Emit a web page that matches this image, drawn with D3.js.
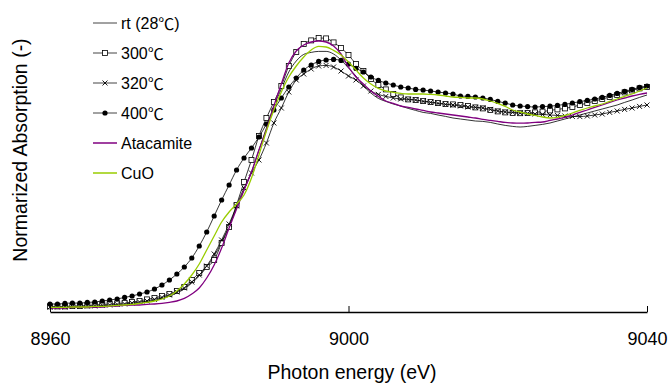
<!DOCTYPE html>
<html>
<head>
<meta charset="utf-8">
<script src="https://cdn.jsdelivr.net/npm/d3@7"></script>
<style>
  body { margin: 0; background: #fff; }
  svg { display: block; font-family: "Liberation Sans", Arial, "Noto Sans CJK JP", sans-serif; }
</style>
</head>
<body>
<div id="chart"></div>
<script>
// photon energy grid (eV)
const energies = [
  8960, 8961, 8962, 8963, 8964, 8965, 8966, 8967, 8968, 8969,
  8970, 8971, 8972, 8973, 8974, 8975, 8976, 8977, 8978, 8979,
  8980, 8981, 8982, 8983, 8984, 8985, 8986, 8987, 8988, 8989,
  8990, 8991, 8992, 8993, 8994, 8995, 8996, 8997, 8998, 8999,
  9000, 9001, 9002, 9003, 9004, 9005, 9006, 9007, 9008, 9009,
  9010, 9011, 9012, 9013, 9014, 9015, 9016, 9017, 9018, 9019,
  9020, 9021, 9022, 9023, 9024, 9025, 9026, 9027, 9028, 9029,
  9030, 9031, 9032, 9033, 9034, 9035, 9036, 9037, 9038, 9039,
  9040
];

// normalized absorption
const rt = [
  0.0225, 0.0225, 0.0225, 0.025, 0.025, 0.0275, 0.0275, 0.03, 0.0325, 0.035,
  0.0375, 0.04, 0.045, 0.05, 0.0575, 0.0675, 0.08, 0.095, 0.115, 0.145,
  0.18, 0.225, 0.28, 0.35, 0.43, 0.52, 0.61, 0.70, 0.81, 0.92,
  1.03, 1.115, 1.20, 1.255, 1.288, 1.298, 1.303, 1.303, 1.29, 1.26,
  1.22, 1.18, 1.13, 1.095, 1.068, 1.053, 1.04, 1.03, 1.018, 1.008,
  0.998, 0.993, 0.985, 0.978, 0.97, 0.965, 0.96, 0.955, 0.953, 0.948,
  0.94, 0.933, 0.928, 0.925, 0.928, 0.933, 0.938, 0.945, 0.955, 0.965,
  0.975, 0.985, 0.995, 1.005, 1.015, 1.025, 1.035, 1.048, 1.06, 1.073,
  1.085
];
const t300 = [
  0.028, 0.028, 0.028, 0.03, 0.03, 0.033, 0.035, 0.038, 0.04, 0.043,
  0.045, 0.05, 0.055, 0.063, 0.07, 0.08, 0.09, 0.105, 0.125, 0.16,
  0.195, 0.225, 0.26, 0.345, 0.425, 0.535, 0.65, 0.76, 0.88, 0.97,
  1.05, 1.13, 1.23, 1.30, 1.34, 1.358, 1.37, 1.368, 1.348, 1.32,
  1.285, 1.24, 1.205, 1.165, 1.135, 1.113, 1.09, 1.073, 1.063, 1.06,
  1.055, 1.05, 1.045, 1.04, 1.038, 1.035, 1.03, 1.023, 1.018, 1.01,
  1.003, 0.998, 0.995, 0.994, 0.995, 0.998, 1.002, 1.008, 1.013, 1.018,
  1.025, 1.035, 1.045, 1.055, 1.065, 1.075, 1.085, 1.098, 1.108, 1.118,
  1.125
];
const t320 = [
  0.025, 0.025, 0.025, 0.028, 0.028, 0.03, 0.03, 0.033, 0.035, 0.038,
  0.04, 0.045, 0.05, 0.055, 0.063, 0.073, 0.085, 0.10, 0.12, 0.15,
  0.185, 0.23, 0.29, 0.36, 0.44, 0.53, 0.62, 0.695, 0.76, 0.845,
  0.945, 1.02, 1.10, 1.16, 1.19, 1.215, 1.23, 1.233, 1.225, 1.205,
  1.18, 1.16, 1.13, 1.105, 1.088, 1.078, 1.07, 1.065, 1.063, 1.06,
  1.053, 1.048, 1.043, 1.038, 1.035, 1.03, 1.025, 1.023, 1.02, 1.013,
  1.005, 1.0, 0.998, 0.995, 0.993, 0.99, 0.988, 0.985, 0.983, 0.98,
  0.978, 0.977, 0.98, 0.985, 0.99, 0.998, 1.005, 1.013, 1.02, 1.028,
  1.035
];
const t400 = [
  0.04, 0.04, 0.043, 0.045, 0.045, 0.048, 0.05, 0.055, 0.06, 0.065,
  0.073, 0.08, 0.09, 0.10, 0.115, 0.135, 0.16, 0.19, 0.225, 0.27,
  0.33, 0.40, 0.48, 0.56, 0.635, 0.71, 0.77, 0.82, 0.875, 0.94,
  1.01, 1.07, 1.125, 1.17, 1.21, 1.235, 1.253, 1.26, 1.263, 1.258,
  1.24, 1.218, 1.20, 1.175, 1.158, 1.145, 1.135, 1.125, 1.12, 1.113,
  1.11, 1.105, 1.10, 1.095, 1.09, 1.08, 1.078, 1.075, 1.07, 1.063,
  1.053, 1.045, 1.035, 1.03, 1.027, 1.025, 1.027, 1.029, 1.033, 1.038,
  1.045, 1.052, 1.058, 1.065, 1.073, 1.083, 1.093, 1.103, 1.113, 1.123,
  1.13
];
const atacamite = [
  0.02, 0.02, 0.02, 0.023, 0.023, 0.023, 0.025, 0.025, 0.028, 0.03,
  0.033, 0.035, 0.035, 0.038, 0.04, 0.043, 0.048, 0.055, 0.068, 0.09,
  0.12, 0.17, 0.235, 0.32, 0.42, 0.515, 0.61, 0.70, 0.81, 0.91,
  1.03, 1.14, 1.245, 1.305, 1.335, 1.35, 1.355, 1.35, 1.33, 1.29,
  1.225, 1.175, 1.14, 1.105, 1.078, 1.055, 1.043, 1.03, 1.023, 1.015,
  1.008, 1.0, 0.995, 0.99, 0.985, 0.98, 0.975, 0.97, 0.963, 0.958,
  0.953, 0.948, 0.945, 0.944, 0.945, 0.948, 0.95, 0.958, 0.965, 0.973,
  0.985, 0.998, 1.01, 1.023, 1.035, 1.048, 1.06, 1.07, 1.08, 1.088,
  1.095
];
const cuo = [
  0.023, 0.023, 0.023, 0.025, 0.025, 0.025, 0.028, 0.028, 0.03, 0.033,
  0.035, 0.038, 0.043, 0.048, 0.055, 0.065, 0.08, 0.105, 0.14, 0.185,
  0.24, 0.31, 0.38, 0.45, 0.50, 0.54, 0.585, 0.67, 0.785, 0.905,
  1.01, 1.10, 1.175, 1.23, 1.275, 1.31, 1.328, 1.325, 1.308, 1.285,
  1.25, 1.21, 1.17, 1.14, 1.118, 1.105, 1.098, 1.093, 1.09, 1.09,
  1.09, 1.088, 1.085, 1.08, 1.075, 1.073, 1.07, 1.07, 1.065, 1.055,
  1.043, 1.028, 1.01, 1.0, 0.99, 0.983, 0.975, 0.97, 0.973, 0.983,
  0.995, 1.008, 1.02, 1.03, 1.04, 1.053, 1.065, 1.078, 1.09, 1.105,
  1.12
];

const seriesNames = ['rt (28℃)', '300℃', '320℃', '400℃', 'Atacamite', 'CuO'];
const xTicks = [8960, 9000, 9040];

const series = [
  { name: seriesNames[0], values: rt, color: '#000', marker: null },
  { name: seriesNames[1], values: t300, color: '#000', marker: 'square' },
  { name: seriesNames[2], values: t320, color: '#000', marker: 'cross' },
  { name: seriesNames[3], values: t400, color: '#000', marker: 'dot' },
  { name: seriesNames[4], values: atacamite, color: '#800080', marker: null },
  { name: seriesNames[5], values: cuo, color: '#99cc00', marker: null }
];

const width = 669, height = 383;

const svg = d3.select('#chart')
  .append('svg')
  .attr('width', width)
  .attr('height', height);

svg.append('rect').attr('width', width).attr('height', height).attr('fill', '#fff');

const x = d3.scaleLinear().domain([8960, 9040]).range([50, 647]);
const y = d3.scaleLinear().domain([0, 1.5]).range([312, 12]);

function drawMarker(g, type) {
  if (type === 'square') {
    g.append('rect')
      .attr('x', -2.5).attr('y', -2.5)
      .attr('width', 5).attr('height', 5)
      .attr('fill', '#fff').attr('stroke', '#000').attr('stroke-width', 0.8);
  } else if (type === 'cross') {
    g.append('path')
      .attr('d', 'M-2.5,-2.5L2.5,2.5M-2.5,2.5L2.5,-2.5')
      .attr('stroke', '#000').attr('stroke-width', 0.9);
  } else if (type === 'dot') {
    g.append('circle').attr('r', 2.6).attr('fill', '#000');
  }
}

// courbes
const line = d3.line()
  .x((d, i) => x(energies[i]))
  .y(d => y(d))
  .curve(d3.curveMonotoneX);

series.forEach(s => {
  svg.append('path')
    .datum(s.values)
    .attr('fill', 'none')
    .attr('stroke', s.color)
    .attr('stroke-width', s.color === '#000' ? 0.8 : 1.3)
    .attr('d', line);

  if (s.marker) {
    svg.append('g')
      .selectAll('g')
      .data(s.values)
      .enter().append('g')
      .attr('transform', (d, i) => 'translate(' + x(energies[i]) + ',' + y(d) + ')')
      .each(function() { drawMarker(d3.select(this), s.marker); });
  }
});

// axe X
const xAxis = svg.append('g')
  .attr('transform', 'translate(0,312)')
  .call(d3.axisBottom(x).tickValues(xTicks).tickFormat(d3.format('d'))
    .tickSizeInner(-6).tickSizeOuter(0).tickPadding(20));
xAxis.select('.domain').attr('stroke-width', 1.5);
xAxis.selectAll('.tick line').attr('stroke-width', 1);
xAxis.selectAll('text')
  .attr('font-family', '"Liberation Sans", Arial, sans-serif')
  .attr('font-size', 18)
  .attr('fill', '#000');

svg.append('text')
  .attr('x', 352).attr('y', 379)
  .attr('text-anchor', 'middle')
  .attr('font-size', 19.5)
  .text('Photon energy (eV)');

svg.append('text')
  .attr('transform', 'translate(20,150) rotate(-90)')
  .attr('text-anchor', 'middle')
  .attr('dominant-baseline', 'central')
  .attr('font-size', 19.5)
  .text('Normarized Absorption (-)');

// légende, le ℃ en police CJK comme dans l'original
const legend = svg.append('g');
series.forEach((s, i) => {
  const ly = 23 + i * 30;
  legend.append('line')
    .attr('x1', 93).attr('x2', 117)
    .attr('y1', ly).attr('y2', ly)
    .attr('stroke', s.color === '#000' ? '#444' : s.color)
    .attr('stroke-width', s.color === '#000' ? 1 : 1.5);
  if (s.marker) {
    drawMarker(legend.append('g').attr('transform', 'translate(105,' + ly + ')'), s.marker);
  }
  const t = legend.append('text')
    .attr('x', 121).attr('y', ly)
    .attr('dominant-baseline', 'central')
    .attr('font-size', 16);
  s.name.split(/(℃)/).filter(p => p).forEach(p => {
    t.append('tspan')
      .attr('font-family', p === '℃' ? '"Noto Sans CJK JP"' : null)
      .text(p);
  });
});
</script>
</body>
</html>
